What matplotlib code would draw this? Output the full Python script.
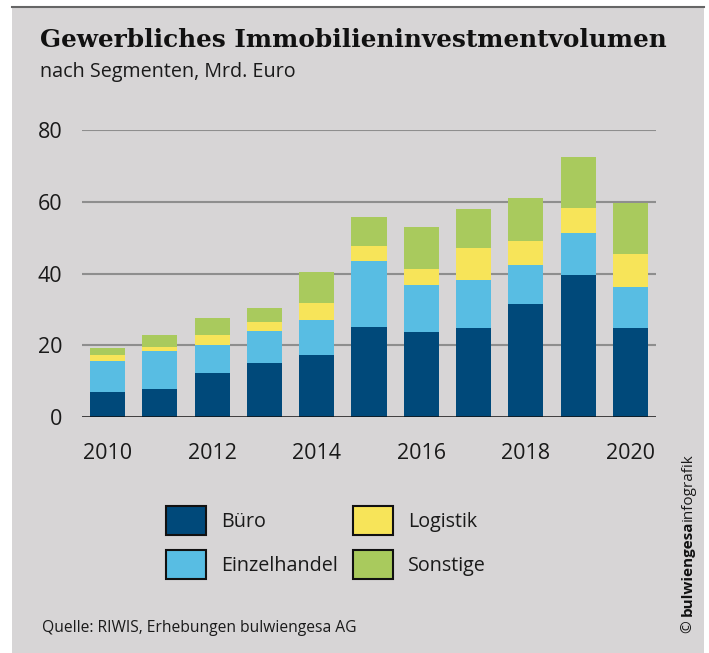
import matplotlib.pyplot as plt
from matplotlib.patches import Patch, Rectangle
from matplotlib.lines import Line2D
import numpy as np

# Werte in Mrd. Euro
years = [2010, 2011, 2012, 2013, 2014, 2015, 2016, 2017, 2018, 2019, 2020]
buero = [6.9, 7.7, 12.2, 15.0, 17.2, 25.0, 23.7, 24.8, 31.5, 39.6, 24.8]
einzelhandel = [8.7, 10.6, 7.8, 8.9, 9.8, 18.5, 13.1, 13.4, 10.9, 11.7, 11.4]
logistik = [1.6, 1.2, 2.8, 2.5, 4.8, 4.2, 4.5, 8.9, 6.7, 7.0, 9.2]
sonstige = [2.0, 3.3, 4.8, 4.0, 8.6, 8.1, 11.7, 10.9, 12.0, 14.2, 14.3]

segments = ["Büro", "Einzelhandel", "Logistik", "Sonstige"]
colors = ["#00497a", "#58bde3", "#f7e459", "#a9ca5d"]
xticks = [2010, 2012, 2014, 2016, 2018, 2020]
yticks = [0, 20, 40, 60, 80]

BG = "#d7d5d6"
W, H = 709, 653

plt.rcParams["font.family"] = ["Open Sans", "DejaVu Sans"]

fig = plt.figure(figsize=(W / 100, H / 100), dpi=100)
fig.patch.set_facecolor("white")

# grauer Hintergrund mit dunkler Linie oben
fig.patches.append(Rectangle((12 / W, 0), 692 / W, 646 / H, transform=fig.transFigure,
                             facecolor=BG, edgecolor="none", zorder=-10))
fig.lines.append(Line2D([12 / W, 704 / W], [646.5 / H, 646.5 / H], transform=fig.transFigure,
                        color="#666666", linewidth=1.5))

ax = fig.add_axes([82 / W, (H - 417) / H, (656 - 82) / W, (417 - 130) / H])
ax.set_facecolor("none")

series = [buero, einzelhandel, logistik, sonstige]
bottom = np.zeros(len(years))
for vals, col, name in zip(series, colors, segments):
    ax.bar(years, vals, bottom=bottom, width=0.67, color=col, label=name, zorder=3)
    bottom += np.array(vals)

ax.set_xlim(2010 - 0.49, 2020 + 0.49)
ax.set_ylim(0, 80)
ax.set_yticks(yticks)
ax.set_xticks(xticks)
for y in yticks[1:]:
    ax.axhline(y, color="#8e8e8e", linewidth=1.5, zorder=1)
ax.axhline(0, color="#111111", linewidth=1.8, zorder=4)
for s in ax.spines.values():
    s.set_visible(False)
ax.tick_params(axis="both", length=0, labelsize=15.5, colors="#1a1a1a")
ax.tick_params(axis="y", pad=14)
ax.tick_params(axis="x", pad=19)

# Titel
fig.text(40 / W, (H - 40) / H, "Gewerbliches Immobilieninvestmentvolumen",
         family="DejaVu Serif", fontweight="bold", fontsize=17.8, color="#111111",
         va="center", ha="left")
fig.text(40 / W, (H - 72) / H, "nach Segmenten, Mrd. Euro", fontsize=14.2,
         color="#1a1a1a", va="center", ha="left")

# Legende
handles = [Patch(facecolor=c, edgecolor="#111111", linewidth=1.5) for c in colors]
fig.legend(handles, segments, ncol=2,
           loc="upper left", bbox_to_anchor=(166 / W, (H - 506) / H), frameon=False,
           borderaxespad=0, fontsize=14.2, handlelength=2.05, handleheight=1.88,
           handletextpad=0.75, columnspacing=0.75, labelspacing=0.75, borderpad=0,
           labelcolor="#1a1a1a")

fig.text(42 / W, (H - 628) / H, "Quelle: RIWIS, Erhebungen bulwiengesa AG", fontsize=11.25,
         color="#1a1a1a", va="center", ha="left")

# Copyright senkrecht
renderer = fig.canvas.get_renderer()
t1 = fig.text(688 / W, (H - 633) / H, "© ", rotation=90, fontsize=11,
              va="bottom", ha="center", color="#1a1a1a")
bb = t1.get_window_extent(renderer)
t2 = fig.text(688 / W, bb.y1 / H, "bulwiengesa", rotation=90, fontsize=11, fontweight="bold",
              va="bottom", ha="center", color="#111111")
bb2 = t2.get_window_extent(renderer)
fig.text(688 / W, bb2.y1 / H, "infografik", rotation=90, fontsize=11,
         va="bottom", ha="center", color="#1a1a1a")

fig.savefig("out.png", dpi=100, facecolor=fig.get_facecolor())
